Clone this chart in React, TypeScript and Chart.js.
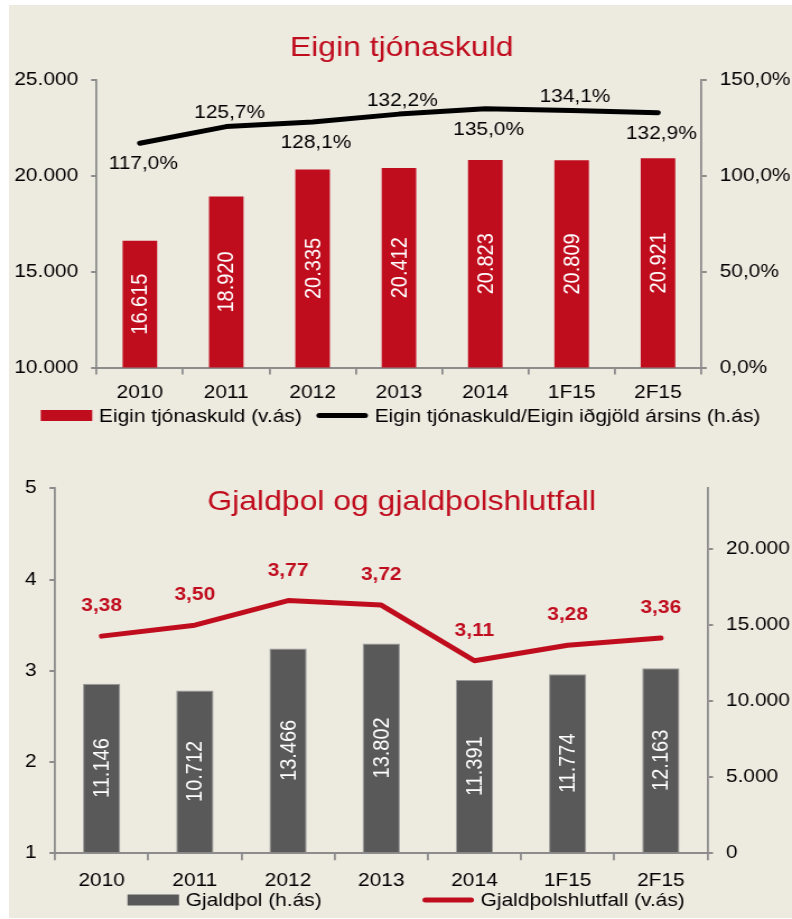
import React, { useEffect, useRef } from 'react';
import { Chart, registerables } from 'chart.js';

Chart.register(...registerables);

// ---------- data ----------
const categories = ['2010', '2011', '2012', '2013', '2014', '1F15', '2F15'];

const claimsTitle = 'Eigin tjónaskuld';
const claimsBarLabel = 'Eigin tjónaskuld (v.ás)';
const claimsLineLabel = 'Eigin tjónaskuld/Eigin iðgjöld ársins (h.ás)';
const claimsValues = [16615, 18920, 20335, 20412, 20823, 20809, 20921];
const claimsRatio = [117.0, 125.7, 128.1, 132.2, 135.0, 134.1, 132.9];
const claimsLeftTicks = [10000, 15000, 20000, 25000];
const claimsRightTicks = [0, 50, 100, 150];

const solvencyTitle = 'Gjaldþol og gjaldþolshlutfall';
const solvencyBarLabel = 'Gjaldþol (h.ás)';
const solvencyLineLabel = 'Gjaldþolshlutfall (v.ás)';
const solvencyValues = [11146, 10712, 13466, 13802, 11391, 11774, 12163];
const solvencyRatio = [3.38, 3.5, 3.77, 3.72, 3.11, 3.28, 3.36];
const solvencyLeftTicks = [1, 2, 3, 4, 5];
const solvencyRightTicks = [0, 5000, 10000, 15000, 20000];

// ---------- style ----------
const FAMILY = '"Liberation Sans", Arial, Helvetica, sans-serif';
const BG = '#EDEAE0';
const RED = '#C00D1E';
const GRAY_BAR = '#595959';
const AXIS = '#8C8C8C';
const FS = 18.67;
const W = 699;
const OUTER_W = 783;
const STRETCH = OUTER_W / W;

Chart.defaults.font.family = FAMILY;
Chart.defaults.color = '#000';

const fmtThousands = (n: number) =>
  Math.round(n).toString().replace(/\B(?=(\d{3})+(?!\d))/g, '.');
const fmtPct = (n: number) => n.toFixed(1).replace('.', ',') + '%';
const fmtDec2 = (n: number) => n.toFixed(2).replace('.', ',');

type LegendItem = { text: string; kind: 'rect' | 'line'; color: string };
type LabelCfg = {
  datasetIndex: number;
  mode: 'bar' | 'line';
  font: string;
  color: string;
  format: (v: number) => string;
  dy?: (i: number) => number;
  dx?: number;
};
type DecorCfg = {
  title: string;
  titleY: number;
  legend: LegendItem[];
  legendY: number;
  legendGap: number;
  legendShift: number;
  labels: LabelCfg[];
};

function makeDecor(cfg: DecorCfg) {
  return {
    id: 'decor',
    afterDatasetsDraw(chart: any) {
      const ctx = chart.ctx as CanvasRenderingContext2D;
      const area = chart.chartArea;
      cfg.labels.forEach((lab) => {
        const meta = chart.getDatasetMeta(lab.datasetIndex);
        const data = chart.data.datasets[lab.datasetIndex].data as number[];
        meta.data.forEach((el: any, j: number) => {
          const text = lab.format(data[j]);
          ctx.save();
          ctx.font = lab.font;
          ctx.fillStyle = lab.color;
          ctx.textAlign = 'center';
          ctx.textBaseline = 'middle';
          if (lab.mode === 'bar') {
            const p = el.getProps(['x', 'y', 'base'], true);
            const base = Math.min(p.base, area.bottom);
            ctx.translate(p.x, (p.y + base) / 2);
            ctx.rotate(-Math.PI / 2);
            ctx.fillText(text, 0, 1);
          } else {
            const p = el.getProps(['x', 'y'], true);
            const dy = lab.dy ? lab.dy(j) : 0;
            ctx.fillText(text, p.x + (lab.dx || 0), p.y + dy);
          }
          ctx.restore();
        });
      });
    },
    afterDraw(chart: any) {
      const ctx = chart.ctx as CanvasRenderingContext2D;
      const width = chart.width;
      ctx.save();
      // title
      ctx.font = `28.5px ${FAMILY}`;
      ctx.fillStyle = RED;
      ctx.textAlign = 'center';
      ctx.textBaseline = 'middle';
      ctx.fillText(cfg.title, width / 2 + 1, cfg.titleY);
      // legend
      ctx.font = `${FS}px ${FAMILY}`;
      const markW = 46;
      const textGap = 6;
      const widths = cfg.legend.map((it) => markW + textGap + ctx.measureText(it.text).width);
      const total = widths.reduce((a, b) => a + b, 0) + cfg.legendGap * (cfg.legend.length - 1);
      let x = width / 2 + cfg.legendShift - total / 2;
      const cy = cfg.legendY;
      cfg.legend.forEach((it, k) => {
        if (it.kind === 'rect') {
          ctx.fillStyle = it.color;
          ctx.fillRect(x, cy - 5.5, markW, 11);
        } else {
          ctx.strokeStyle = it.color;
          ctx.lineWidth = 5;
          ctx.lineCap = 'round';
          ctx.beginPath();
          ctx.moveTo(x + 2.5, cy);
          ctx.lineTo(x + markW - 2.5, cy);
          ctx.stroke();
        }
        ctx.fillStyle = '#000';
        ctx.textAlign = 'left';
        ctx.textBaseline = 'middle';
        ctx.fillText(it.text, x + markW + textGap, cy + 1);
        x += widths[k] + cfg.legendGap;
      });
      ctx.restore();
    },
  };
}

function axisY(opts: {
  position: 'left' | 'right';
  min: number;
  max: number;
  ticks: number[];
  fmt: (v: number) => string;
  width: number;
}) {
  return {
    type: 'linear',
    position: opts.position,
    min: opts.min,
    max: opts.max,
    grid: {
      display: true,
      drawOnChartArea: false,
      drawTicks: true,
      tickLength: 5,
      color: AXIS,
      lineWidth: 2,
    },
    border: { display: true, color: AXIS, width: 1.8 },
    ticks: {
      padding: 11.5,
      color: '#000',
      font: { size: FS, family: FAMILY },
      callback: (v: any) => opts.fmt(Number(v)),
    },
    afterBuildTicks: (s: any) => {
      s.ticks = opts.ticks.map((v) => ({ value: v }));
    },
    afterFit: (s: any) => {
      s.width = opts.width;
    },
  };
}

function axisX(padding: number) {
  return {
    type: 'category',
    grid: {
      display: true,
      offset: true,
      drawOnChartArea: false,
      drawTicks: true,
      tickLength: 7,
      color: AXIS,
      lineWidth: 1.8,
    },
    border: { display: true, color: AXIS, width: 2 },
    ticks: {
      padding,
      color: '#000',
      maxRotation: 0,
      autoSkip: false,
      font: { size: FS, family: FAMILY },
    },
    afterFit: (s: any) => {
      s.height = 40;
    },
  };
}

function buildClaims(height: number) {
  const chartTop = 75;
  const chartBottom = 362.5;
  return {
    type: 'bar',
    data: {
      labels: categories,
      datasets: [
        {
          type: 'line',
          label: claimsLineLabel,
          data: claimsRatio,
          yAxisID: 'y1',
          borderColor: '#000',
          borderWidth: 5,
          borderCapStyle: 'round',
          borderJoinStyle: 'round',
          pointRadius: 0,
          tension: 0,
          order: 1,
        },
        {
          type: 'bar',
          label: claimsBarLabel,
          data: claimsValues,
          yAxisID: 'y',
          backgroundColor: RED,
          barPercentage: 0.4,
          categoryPercentage: 1,
          order: 2,
        },
      ],
    },
    options: {
      responsive: false,
      animation: false,
      layout: { padding: { top: chartTop, bottom: height - chartBottom - 40, left: 0, right: 0 } },
      plugins: { legend: { display: false }, title: { display: false }, tooltip: { enabled: false } },
      scales: {
        x: axisX(7),
        y: axisY({ position: 'left', min: 10000, max: 25000, ticks: claimsLeftTicks, fmt: fmtThousands, width: 78.3 }),
        y1: axisY({ position: 'right', min: 0, max: 150, ticks: claimsRightTicks, fmt: fmtPct, width: W - 617.9 }),
      },
    },
    plugins: [
      makeDecor({
        title: claimsTitle,
        titleY: 43,
        legend: [
          { text: claimsBarLabel, kind: 'rect', color: RED },
          { text: claimsLineLabel, kind: 'line', color: '#000' },
        ],
        legendY: 410.5,
        legendGap: 13,
        legendShift: 0,
        labels: [
          { datasetIndex: 1, mode: 'bar', font: `20px ${FAMILY}`, color: '#fff', format: fmtThousands },
          {
            datasetIndex: 0,
            mode: 'line',
            font: `${FS}px ${FAMILY}`,
            color: '#000',
            format: fmtPct,
            dx: 3,
            dy: (i: number) => (i % 2 === 0 ? 21 : -13.5),
          },
        ],
      }),
    ],
  };
}

function buildSolvency(height: number) {
  const chartTop = 38.3;
  const chartBottom = 403.3;
  return {
    type: 'bar',
    data: {
      labels: categories,
      datasets: [
        {
          type: 'line',
          label: solvencyLineLabel,
          data: solvencyRatio,
          yAxisID: 'y',
          borderColor: RED,
          borderWidth: 5,
          borderCapStyle: 'round',
          borderJoinStyle: 'round',
          pointRadius: 0,
          tension: 0,
          order: 1,
        },
        {
          type: 'bar',
          label: solvencyBarLabel,
          data: solvencyValues,
          yAxisID: 'y1',
          backgroundColor: GRAY_BAR,
          borderColor: '#9A9A9A',
          borderWidth: 1,
          barPercentage: 0.4,
          categoryPercentage: 1,
          order: 2,
        },
      ],
    },
    options: {
      responsive: false,
      animation: false,
      layout: { padding: { top: chartTop, bottom: height - chartBottom - 40, left: 0, right: 0 } },
      plugins: { legend: { display: false }, title: { display: false }, tooltip: { enabled: false } },
      scales: {
        x: axisX(9),
        y: axisY({ position: 'left', min: 1, max: 5, ticks: solvencyLeftTicks, fmt: (v) => String(v), width: 41.1 }),
        y1: axisY({ position: 'right', min: 0, max: 24000, ticks: solvencyRightTicks, fmt: fmtThousands, width: W - 623.5 }),
      },
    },
    plugins: [
      makeDecor({
        title: solvencyTitle,
        titleY: 52.5,
        legend: [
          { text: solvencyBarLabel, kind: 'rect', color: GRAY_BAR },
          { text: solvencyLineLabel, kind: 'line', color: RED },
        ],
        legendY: 450,
        legendGap: 90,
        legendShift: 5,
        labels: [
          { datasetIndex: 1, mode: 'bar', font: `20px ${FAMILY}`, color: '#fff', format: fmtThousands },
          {
            datasetIndex: 0,
            mode: 'line',
            font: `bold ${FS}px ${FAMILY}`,
            color: RED,
            format: fmtDec2,
            dy: () => -30,
          },
        ],
      }),
    ],
  };
}

function ChartBox(props: { top: number; height: number; build: (h: number) => any }) {
  const ref = useRef<HTMLCanvasElement>(null);
  useEffect(() => {
    const chart = new Chart(ref.current as HTMLCanvasElement, props.build(props.height));
    return () => chart.destroy();
  }, []);
  return (
    <div
      style={{
        position: 'absolute',
        left: 0,
        top: props.top,
        width: W,
        height: props.height,
        transform: `scaleX(${STRETCH})`,
        transformOrigin: '0 0',
      }}
    >
      <canvas ref={ref} width={W} height={props.height} style={{ display: 'block' }} />
    </div>
  );
}

export default function App() {
  return (
    <div
      style={{
        position: 'absolute',
        left: 9,
        top: 5,
        width: OUTER_W,
        height: 913,
        background: BG,
        overflow: 'hidden',
      }}
    >
      <ChartBox top={0} height={445} build={buildClaims} />
      <ChartBox top={445} height={468} build={buildSolvency} />
    </div>
  );
}
